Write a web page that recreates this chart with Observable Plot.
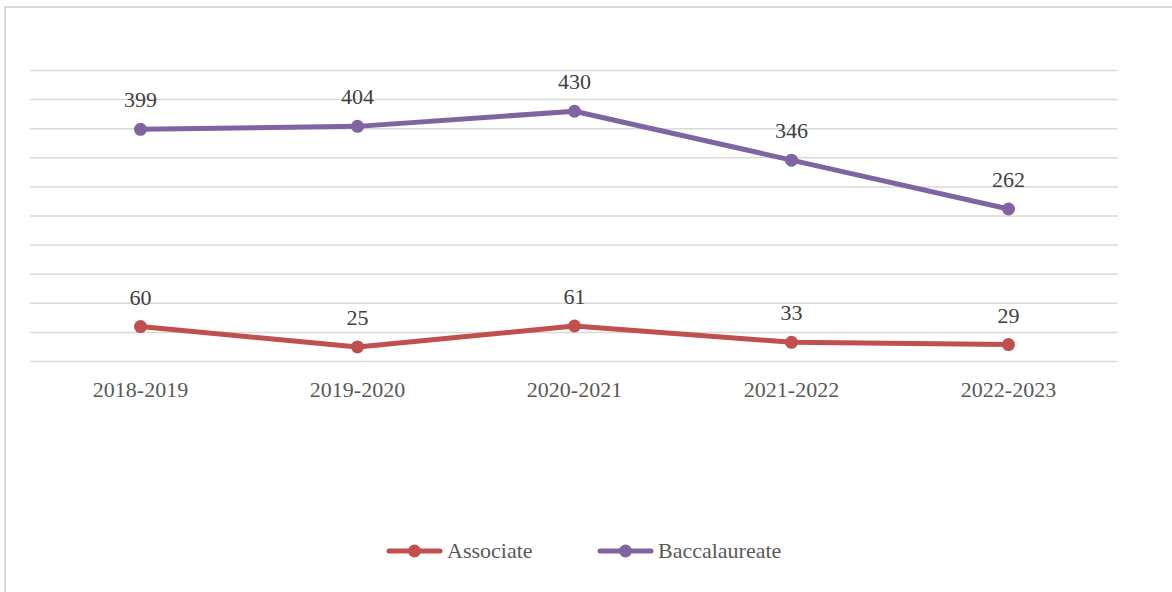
<!DOCTYPE html>
<html>
<head>
<meta charset="utf-8">
<script src="https://cdn.jsdelivr.net/npm/d3@7"></script>
<script src="https://cdn.jsdelivr.net/npm/@observablehq/plot@0.6"></script>
<style>
  html, body { margin: 0; padding: 0; background: #fff; }
  #frame {
    position: absolute; left: 4px; top: 6px; width: 1180px; height: 600px;
    border: 2px solid #d9d9d9; box-sizing: border-box; background: #fff;
  }
  #chart { position: absolute; left: 0; top: 0; }
  #legend {
    position: absolute; left: 0; top: 537px; width: 1172px;
    font-family: "Liberation Serif", "DejaVu Serif", serif; font-size: 22px; color: #595959;
  }
  .item { position: absolute; display: flex; align-items: center; height: 28px; }
  .item svg { margin-right: 4px; }
</style>
</head>
<body>
<div id="frame"></div>
<div id="chart"></div>
<div id="legend"></div>
<script>
const years = ["2018-2019", "2019-2020", "2020-2021", "2021-2022", "2022-2023"];
const associate = [60, 25, 61, 33, 29];
const baccalaureate = [399, 404, 430, 346, 262];
const seriesNames = ["Associate", "Baccalaureate"];
const seriesColors = ["#C0504D", "#8064A2"];
const gridTicks = [0, 50, 100, 150, 200, 250, 300, 350, 400, 450, 500];

const rows = [];
years.forEach((y, i) => {
  rows.push({year: y, series: seriesNames[0], value: associate[i]});
  rows.push({year: y, series: seriesNames[1], value: baccalaureate[i]});
});

const font = "Liberation Serif, DejaVu Serif, serif";

const plot = Plot.plot({
  width: 1172,
  height: 520,
  marginLeft: 30,
  marginRight: 54,
  marginTop: 70,
  marginBottom: 159,
  style: {fontFamily: font, background: "transparent", overflow: "visible"},
  x: {type: "point", domain: years, padding: 0.5, label: null},
  y: {domain: [0, 500], axis: null},
  color: {domain: seriesNames, range: seriesColors},
  marks: [
    Plot.ruleY(gridTicks, {stroke: "#d9d9d9", strokeWidth: 1.5}),
    Plot.axisX({tickSize: 0, tickPadding: 20, fontSize: 22, fill: "#595959", label: null}),
    Plot.line(rows, {x: "year", y: "value", stroke: "series", z: "series", strokeWidth: 5, curve: "linear"}),
    Plot.dot(rows, {x: "year", y: "value", fill: "series", r: 6.5}),
    Plot.text(rows, {x: "year", y: "value", text: d => String(d.value), dy: -29, fontSize: 22, fill: "#404040"})
  ]
});
document.getElementById("chart").appendChild(plot);

const legend = document.getElementById("legend");
const lefts = [386, 597];
seriesNames.forEach((name, i) => {
  const div = document.createElement("div");
  div.className = "item";
  div.style.left = lefts[i] + "px";
  div.innerHTML = `<svg width="57" height="14"><line x1="3" y1="7" x2="54" y2="7" stroke="${seriesColors[i]}" stroke-width="5" stroke-linecap="round"/><circle cx="28.5" cy="7" r="6.5" fill="${seriesColors[i]}"/></svg><span>${name}</span>`;
  legend.appendChild(div);
});
</script>
</body>
</html>
